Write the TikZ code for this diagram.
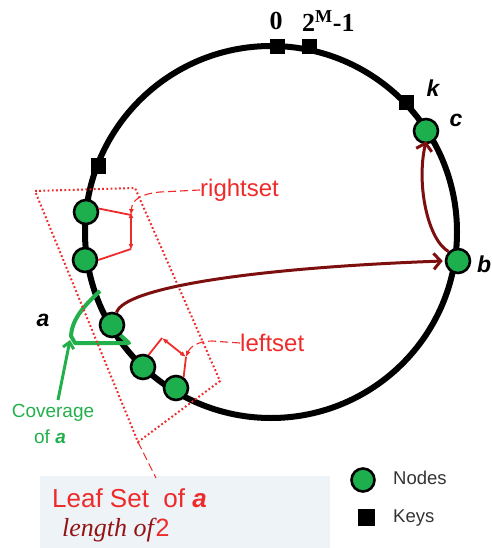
\documentclass[tikz,border=0pt]{standalone}
\usepackage{fontspec}
\setmainfont{Liberation Sans}
\newfontfamily\serfam{Liberation Serif}
\usetikzlibrary{arrows.meta}
\definecolor{ngreen}{HTML}{1DAF4E}
\definecolor{lred}{HTML}{EE2A2A}
\definecolor{dred}{HTML}{7D0F0F}
\definecolor{cgreen}{HTML}{23B04C}
\definecolor{boxbg}{HTML}{EDF3F7}
\definecolor{ltext}{HTML}{333333}
\begin{document}
\begin{tikzpicture}[x=1pt,y=-1pt,
  ringnode/.style={circle,fill=ngreen,draw=black,line width=2.6pt,minimum size=24pt,inner sep=0pt},
  keysq/.style={rectangle,fill=black,minimum size=15pt,inner sep=0pt},
  lbl/.style={inner sep=0pt},
  letter/.style={inner sep=0pt,font=\fontsize{23}{26}\selectfont\bfseries\itshape},
  keylbl/.style={inner sep=0pt,font=\fontsize{26}{28}\selectfont\serfam\bfseries},
  redtxt/.style={inner sep=0pt,text=lred,font=\fontsize{24}{28}\selectfont},
  bracket/.style={lred,line width=1.8pt},
  leader/.style={lred,line width=1.1pt,dash pattern=on 8pt off 4pt},
  darkarrow/.style={dred,line width=3pt,-{Straight Barb[length=7pt,width=16pt]}},
  smalltip/.style={-{Latex[length=6pt,width=5pt]}}]
\useasboundingbox (0,0) rectangle (491,548);

% leaf set box
\fill[boxbg] (40,476) rectangle (330,548);

% ring
\coordinate (O) at (271,232);
\draw[line width=6pt] (O) circle[radius=186];

% keys
\node[keysq] (k0) at (277,47) {};
\node[keysq] (k1) at (309,47) {};
\node[keysq] (kk) at (406,103) {};
\node[keysq] (kl) at (98,166) {};

% key labels
\node[keylbl] (l0) at (276,21) {0};
\node[keylbl,anchor=west] (l1) at (302,21) {2\textsuperscript{M}-1};
\node[letter] (lk) at (433,88) {k};
\node[letter] (lc) at (456,120) {c};
\node[letter,anchor=west] (lb) at (477,264) {b};
\node[letter] (la) at (43,320) {a};

% coverage wedge of a
\draw[cgreen,line width=4pt,line join=round]
  (100,291) .. controls (86,304) and (72,318) .. (71,336) -- (75,343) -- (129,343) -- (118,333);

% coverage arrow
\node[lbl,text=cgreen,font=\fontsize{19}{22}\selectfont] (cov) at (53,413) {Coverage};
\node[lbl,text=cgreen,font=\fontsize{19}{22}\selectfont] (cova) at (50,437) {of \textbf{\textit{a}}};
\coordinate (covtip) at (70,340);
\draw[cgreen,line width=3pt,-{Straight Barb[length=6pt,width=11pt]}] (58,400) -- (covtip);

% leaf-set dotted region
\draw[lred,line width=2pt,dash pattern=on 1.8pt off 2.4pt]
  (35,191) -- (135,188) -- (220,381) -- (138,442) -- cycle;
\coordinate (lscorner) at (138,442);
\coordinate (lsbox) at (156,478);
\draw[leader] (lscorner) -- (lsbox);

% nodes on ring
\node[ringnode] (n1) at (86,212) {};
\node[ringnode] (n2) at (85,260) {};
\node[ringnode] (a) at (112,325) {};
\node[ringnode] (n4) at (143,367) {};
\node[ringnode] (n5) at (176,388) {};
\node[ringnode] (c) at (426,131) {};
\node[ringnode] (b) at (458,261) {};

% routing arrows
\draw[darkarrow] (a.70) .. controls (124,288) and (250,268) .. ([xshift=-2pt]b.west);
\draw[darkarrow] (b.north west) .. controls (428,240) and (416,185) .. ([yshift=3pt]c.south);

% rightset bracket
\coordinate (p1) at (131,215);
\coordinate (p2) at (131,249);
\draw[bracket] (n1.15) -- (p1);
\draw[bracket] (n2.east) -- (p2);
\draw[bracket,{Latex[length=6pt,width=5pt]}-{Latex[length=6pt,width=5pt]}] ([yshift=3pt]p1) -- ([yshift=-1pt]p2);
\node[redtxt,anchor=west] (rs) at (200,190) {rightset};
\draw[leader,smalltip] (rs.west) -- (160,192) .. controls (140,194) and (132,200) .. (p1);

% leftset bracket
\coordinate (q1) at (162,338);
\coordinate (q2) at (186,357);
\draw[bracket] (n4.65) -- (q1);
\draw[bracket] (q2) -- (n5.55);
\draw[bracket,{Latex[length=6pt,width=5pt]}-{Latex[length=6pt,width=5pt]}] (q1) -- (q2);
\node[redtxt,anchor=west] (ls) at (240,343) {leftset};
\draw[leader,smalltip] (ls.west) -- (212,341) .. controls (198,341) and (190,347) .. (q2);

% leaf set text
\node[lbl,anchor=west,text=lred,font=\fontsize{26}{30}\selectfont] (lst) at (52,498) {Leaf Set\ \ of \textbf{\textit{a}}};
\node[lbl,anchor=west] (lsl) at (62,530) {\textcolor{dred!80!lred}{\serfam\itshape\fontsize{26}{30}\selectfont length of}\,\textcolor{lred}{\fontsize{25}{30}\selectfont 2}};

% legend
\node[ringnode,minimum size=23pt] (legn) at (363,480) {};
\node[lbl,anchor=west,text=ltext,font=\fontsize{18.5}{22}\selectfont] (legnt) at (393,478) {Nodes};
\node[keysq,minimum size=17pt] (legk) at (366,517) {};
\node[lbl,anchor=west,text=ltext,font=\fontsize{18.5}{22}\selectfont] (legkt) at (393,518) {Keys};
\end{tikzpicture}
\end{document}
